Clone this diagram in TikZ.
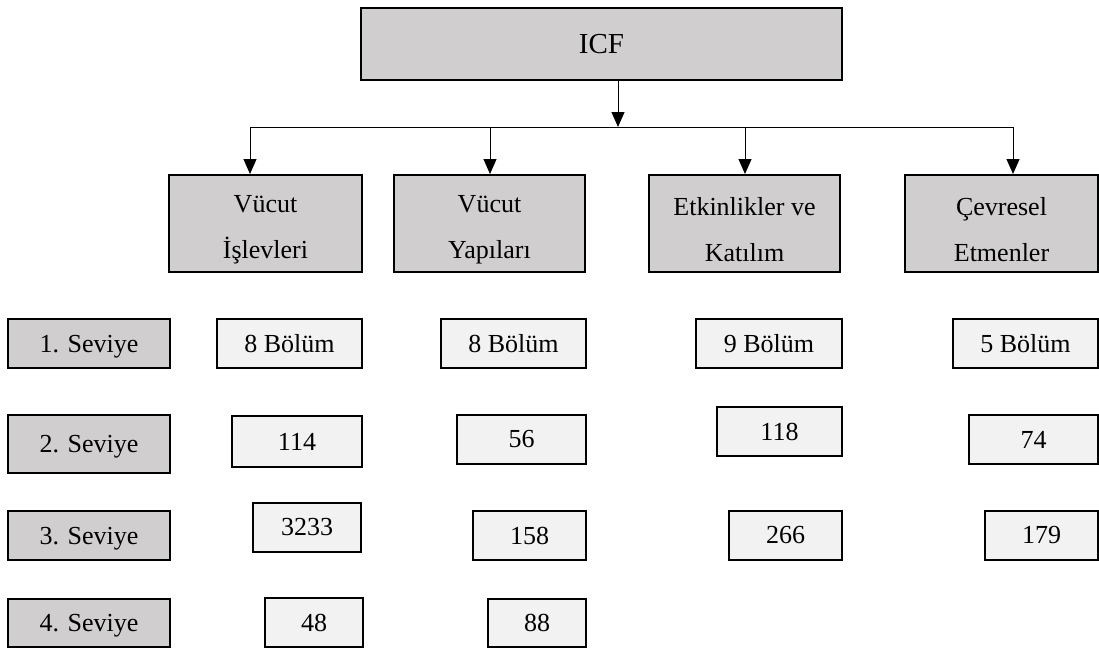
\documentclass[tikz,border=0pt]{standalone}
\usepackage{fontspec}
\setmainfont{Liberation Serif}
\usetikzlibrary{positioning, calc}
\usetikzlibrary{arrows.meta}
\definecolor{boxgray}{HTML}{D0CECF}
\definecolor{numgray}{HTML}{F2F2F2}
\newcommand{\topgap}{\rule{0pt}{30pt}}

\begin{document}
\begin{tikzpicture}[x=1pt,y=-1pt,
    catbox/.style={draw,line width=2pt,fill=boxgray,inner sep=0pt,align=center,
        font=\fontsize{26}{46}\selectfont},
    partbox/.style={catbox,minimum height=97pt},
    numbox/.style={draw,line width=2pt,fill=numgray,inner sep=0pt,
        font=\fontsize{26}{30}\selectfont},
    levbox/.style={numbox,fill=boxgray,minimum width=162pt,text depth=0pt},
    arr/.style={line width=1pt,-{Triangle[length=15pt,width=13pt]}}]
\useasboundingbox (0,0) rectangle (1099,648);

\node[catbox,minimum width=481pt,minimum height=72pt,font=\fontsize{29}{34}\selectfont] (icf) at (601.5,44) {ICF};

\node[partbox,minimum width=193pt] (vi) at (265.5,223.5) {\topgap Vücut\\İşlevleri};
\node[partbox,minimum width=191pt] (vy) at (489.5,223.5) {\topgap Vücut\\Yapıları};
\node[partbox,minimum width=191pt] (ek) at (744.5,223.5) {\topgap Etkinlikler ve\\Katılım};
\node[partbox,minimum width=193pt] (ce) at (1001.5,223.5) {\topgap Çevresel\\Etmenler};

\coordinate (bus) at (618,127);
\coordinate (b1) at (250,127);  \coordinate (b2) at (490,127);
\coordinate (b3) at (745,127);  \coordinate (b4) at (1013,127);
\draw[arr] (icf.south -| bus) -- (bus);
\draw[line width=1pt] (b1) -- (b4);
\draw[arr] (b1) -- (b1 |- vi.north);
\draw[arr] (b2) -- (b2 |- vy.north);
\draw[arr] (b3) -- (b3 |- ek.north);
\draw[arr] (b4) -- (b4 |- ce.north);

% seviye
\node[levbox,minimum height=49pt] (s1) at (89,343.5) {1. Seviye};
\node[levbox,minimum height=58pt] (s2) at (89,444) {2. Seviye};
\node[levbox,minimum height=49pt] (s3) at (89,535.5) {3. Seviye};
\node[levbox,minimum height=48pt] (s4) at (89,623) {4. Seviye};

% vucut islevleri
\node[numbox,minimum width=145pt,minimum height=49pt] (vi1) at (289.5,343.5) {8 Bölüm};
\node[numbox,minimum width=130pt,minimum height=51pt] (vi2) at (297,441.5) {114};
\node[numbox,minimum width=108pt,minimum height=49pt] (vi3) at (307,527.5) {3233};
\node[numbox,minimum width=98pt,minimum height=49pt] (vi4) at (314,622.5) {48};

% vucut yapilari
\node[numbox,minimum width=145pt,minimum height=49pt] (vy1) at (513.5,343.5) {8 Bölüm};
\node[numbox,minimum width=129pt,minimum height=49pt] (vy2) at (521.5,439.5) {56};
\node[numbox,minimum width=113pt,minimum height=49pt] (vy3) at (529.5,535.5) {158};
\node[numbox,minimum width=98pt,minimum height=48pt] (vy4) at (537,623) {88};

% etkinlikler
\node[numbox,minimum width=146pt,minimum height=49pt] (ek1) at (769,343.5) {9 Bölüm};
\node[numbox,minimum width=125pt,minimum height=49pt] (ek2) at (779.5,431.5) {118};
\node[numbox,minimum width=113pt,minimum height=49pt] (ek3) at (785.5,535.5) {266};

% cevresel
\node[numbox,minimum width=145pt,minimum height=49pt] (ce1) at (1025.5,343.5) {5 Bölüm};
\node[numbox,minimum width=129pt,minimum height=49pt] (ce2) at (1033.5,439.5) {74};
\node[numbox,minimum width=113pt,minimum height=49pt] (ce3) at (1041.5,535.5) {179};
\end{tikzpicture}
\end{document}
